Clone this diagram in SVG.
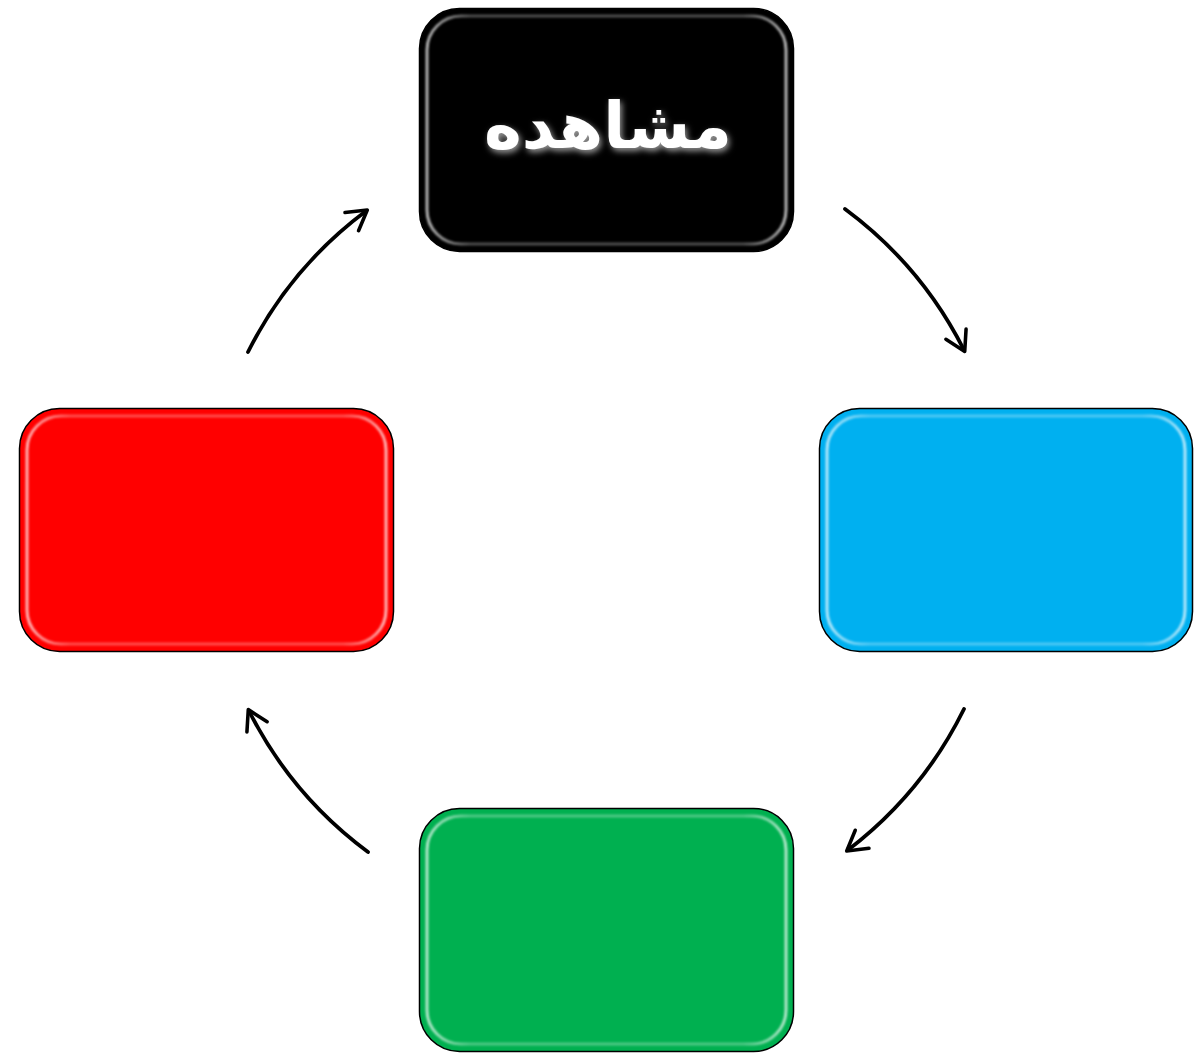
<svg xmlns="http://www.w3.org/2000/svg" width="1197" height="1060" viewBox="0 0 1197 1060">
<style>
.box{stroke:#000;stroke-width:1.5}
.hl{fill:none;stroke:url(#hlg);stroke-width:3;filter:url(#soft)}
.conn path{fill:none;stroke:#000;stroke-width:3.8;stroke-linecap:round;marker-end:url(#ah)}
.lbl{font-family:"DejaVu Sans",sans-serif;font-weight:bold;font-size:64px;fill:#fff;filter:url(#glow)}
</style>
<defs>
<linearGradient id="hlg" x1="0" y1="0" x2="1" y2="0">
<stop offset="0" stop-color="#fff" stop-opacity="0.7"/>
<stop offset="0.12" stop-color="#fff" stop-opacity="0.3"/>
<stop offset="0.88" stop-color="#fff" stop-opacity="0.3"/>
<stop offset="1" stop-color="#fff" stop-opacity="0.7"/>
</linearGradient>
<filter id="soft" x="-5%" y="-5%" width="110%" height="110%"><feGaussianBlur stdDeviation="1.3"/></filter>
<filter id="glow" x="-20%" y="-40%" width="140%" height="180%">
<feGaussianBlur in="SourceAlpha" stdDeviation="3" result="b"/>
<feOffset in="b" dx="2" dy="3" result="o"/>
<feFlood flood-color="#fff" flood-opacity="0.6"/>
<feComposite in2="o" operator="in" result="s"/>
<feMerge><feMergeNode in="s"/><feMergeNode in="SourceGraphic"/></feMerge>
</filter>
<marker id="ah" viewBox="0 0 20 20" refX="14" refY="10" markerWidth="8.5" markerHeight="8.5" markerUnits="strokeWidth" orient="auto">
<path d="M3,3 L15,10 L3,17" fill="none" stroke="#000" stroke-width="2.2" stroke-linecap="round" stroke-linejoin="round"/>
</marker>
</defs>
<g id="node-top">
<rect class="box" x="419.5" y="8.5" width="374" height="243" rx="40" fill="#000"/>
<rect class="hl" x="427" y="16" width="359" height="228" rx="34"/>
<text class="lbl" x="608" y="148" text-anchor="middle">مشاهده</text>
</g>
<g id="node-right">
<rect class="box" x="819.5" y="408.5" width="373" height="243" rx="40" fill="#00b0f0"/>
<rect class="hl" x="827" y="416" width="358" height="228" rx="34"/>
</g>
<g id="node-bottom">
<rect class="box" x="419.5" y="808.5" width="374" height="243" rx="40" fill="#00b050"/>
<rect class="hl" x="427" y="816" width="359" height="228" rx="34"/>
</g>
<g id="node-left">
<rect class="box" x="19.5" y="408.5" width="374" height="243" rx="40" fill="#ff0000"/>
<rect class="hl" x="27" y="416" width="359" height="228" rx="34"/>
</g>
<g id="connectors" class="conn">
<path d="M845,209 A400,400 0 0 1 964,350"/>
<path d="M964,709 A400,400 0 0 1 848,850"/>
<path d="M368,852 A400,400 0 0 1 249,711"/>
<path d="M248,352 A400,400 0 0 1 366,211"/>
</g>
</svg>
